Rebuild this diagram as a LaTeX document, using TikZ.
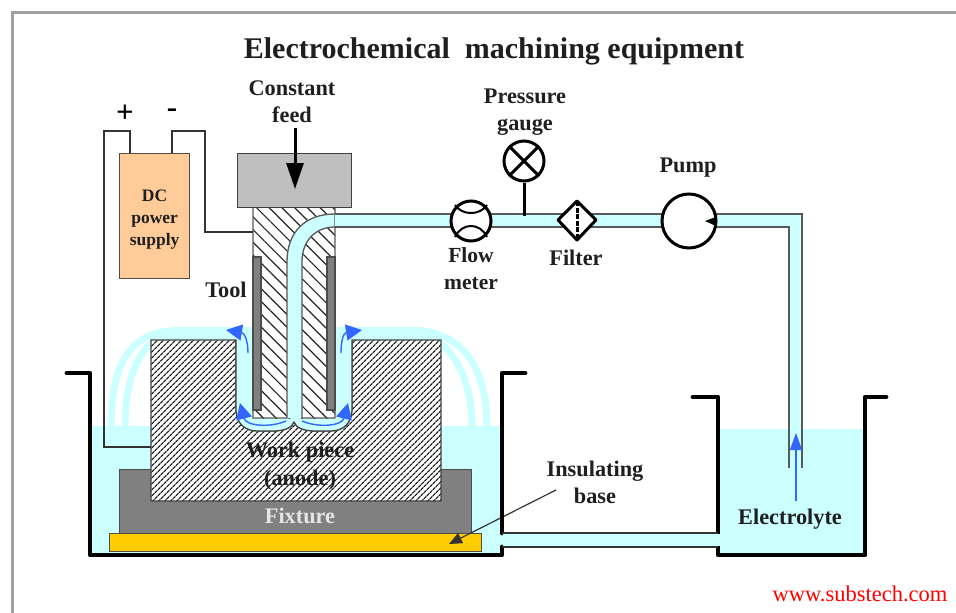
\documentclass[tikz,border=0pt]{standalone}
\usepackage{fontspec}
\setmainfont{Liberation Serif}
\usetikzlibrary{patterns.meta,arrows.meta,calc}
\definecolor{liq}{HTML}{CCFFFF}
\definecolor{flowblue}{HTML}{3366FF}
\definecolor{wire}{HTML}{333333}
\definecolor{frameg}{HTML}{A0A0A0}
\tikzset{
  lab/.style={font=\bfseries\fontsize{#1}{#1}\selectfont,text=black!88,inner sep=0pt,align=center},
  lab/.default=22.3,
  tank/.style={line width=4.8pt,line cap=round,line join=round,black},
  pipeline/.style={line width=1.3pt,draw=black!65},
  wireline/.style={line width=1.7pt,draw=wire},
  instr/.style={line width=3pt,draw=black},
  stream/.style={line width=7pt,draw=liq},
  fineh/.style={pattern={Lines[angle=45,distance=4pt,line width=1.35pt]},pattern color=black!90},
  wideh/.style={pattern={Lines[angle=-45,distance=9pt,line width=1.2pt]},pattern color=black!85},
  farrow/.style={draw=flowblue,line width=1.4pt,-{Triangle[length=16pt,width=16pt]}},
}
\begin{document}
\begin{tikzpicture}[x=1pt,y=-1pt]
\useasboundingbox (0,0) rectangle (956,613);
\draw[frameg,line width=3pt] (12,613) -- (12,12) -- (956,12);
% liquid
\fill[liq] (90,426) rectangle (502,555);
\fill[liq] (718,429) rectangle (865,555);
\fill[liq] (502,533) rectangle (718,547);
% streams
\fill[liq] (238,341) -- (238,327) -- (175,327) .. controls (165,328) and (155,331) .. (148,341) -- cycle;
\fill[liq] (350,341) -- (350,327) -- (420,327) .. controls (430,328) and (438,331) .. (444,341) -- cycle;
\draw[stream] (175,331) .. controls (130,331) and (111,365) .. (111,426);
\draw[stream] (175,333) .. controls (145,335) and (125,370) .. (125,426);
\draw[stream] (415,331) .. controls (460,331) and (487,365) .. (487,426);
\draw[stream] (415,333) .. controls (445,335) and (472,370) .. (472,426);
% fixture and base
\node[draw=black!70,fill=black!50,line width=1.2pt,minimum width=352pt,minimum height=64pt,inner sep=0pt,anchor=north west] (fixture) at (119,469) {};
\node[draw=black!70,fill={rgb,255:red,255;green,204;blue,0},line width=1.2pt,minimum width=372pt,minimum height=18pt,inner sep=0pt,anchor=north west] (base) at (109,533) {};
% workpiece
\def\wppath{(151,340) -- (236,340) -- (236,408) .. controls (236,424) and (245,431) .. (258,431) -- (272,431) .. controls (284,431) and (292,428) .. (294,422) .. controls (296,428) and (304,431) .. (316,431) -- (330,431) .. controls (343,431) and (352,424) .. (352,408) -- (352,340) -- (441,340) -- (441,501) -- (151,501) -- cycle}
\fill[white] \wppath;
\fill[fineh] \wppath;
\draw[black!75,line width=1.2pt] \wppath;
\fill[liq] (236,340) -- (236,408) .. controls (236,424) and (245,431) .. (258,431) -- (272,431) .. controls (284,431) and (292,428) .. (294,422) .. controls (296,428) and (304,431) .. (316,431) -- (330,431) .. controls (343,431) and (352,424) .. (352,408) -- (352,340) -- cycle;
\draw[black!75,line width=1.2pt] (236,340) -- (236,408) .. controls (236,424) and (245,431) .. (258,431) -- (272,431) .. controls (284,431) and (292,428) .. (294,422) .. controls (296,428) and (304,431) .. (316,431) -- (330,431) .. controls (343,431) and (352,424) .. (352,408) -- (352,340);
\fill[liq] (238,327) rectangle (350,341);
% tool
\fill[white] (253,207) rectangle (335,418);
\fill[wideh] (253,207) rectangle (335,418);
\fill[liq] (287,418) -- (287,262) .. controls (287,232) and (305,214) .. (335,214) -- (335,227) .. controls (316,227) and (302,240) .. (302,262) -- (302,418) -- cycle;
\draw[pipeline] (253,207) -- (253,418) -- (287,418) -- (287,262) .. controls (287,232) and (305,214) .. (335,214);
\draw[pipeline] (335,227) .. controls (316,227) and (302,240) .. (302,262) -- (302,418) -- (335,418) -- (335,207);
\fill[black!50,draw=black!70,line width=1.2pt] (253,257) rectangle (261,410);
\fill[black!50,draw=black!70,line width=1.2pt] (327,257) rectangle (335,410);
% feed block
\node[draw=black!75,fill=black!25,line width=1.2pt,minimum width=114pt,minimum height=54pt,inner sep=0pt,anchor=north west] (block) at (237,153) {};
% pipe
\fill[liq] (335,214) -- (802,214) -- (802,468) -- (789,468) -- (789,227) -- (335,227) -- cycle;
\draw[pipeline] (335,214) -- (802,214) -- (802,468);
\draw[pipeline] (335,227) -- (789,227) -- (789,468);
% insulating base arrow
\coordinate (itip) at (449,544);
\coordinate (istart) at (556,490);
\draw[black!80,line width=1.2pt,-{Triangle[length=13pt,width=11pt]}] (istart) -- (itip);
% tanks
\draw[tank] (67,373) -- (90,373) -- (90,555) -- (502,555) -- (502,547);
\draw[tank] (525,373) -- (502,373) -- (502,533);
\draw[tank] (693,397) -- (718,397) -- (718,533);
\draw[tank] (718,547) -- (718,555) -- (865,555) -- (865,397) -- (886,397);
\draw[wireline] (502,533) -- (718,533);
\draw[wireline] (502,547) -- (718,547);
\fill[liq] (503,534) rectangle (720,546.2);
% DC
\node[draw=black!70,fill={rgb,255:red,255;green,204;blue,153},line width=1.2pt,minimum width=70pt,minimum height=125pt,inner sep=0pt,anchor=north west,lab=17.5] (dc) at (119,153) {\rule{0pt}{2pt}\\[-1pt]DC\\[4.5pt]power\\[4.5pt]supply};
\coordinate (wplug) at (151,447);
\coordinate (tplug) at (253,232);
\draw[wireline] (130,153) -- (130,131) -- (104,131) -- (104,447) -- (wplug);
\draw[wireline] (172,153) -- (172,131) -- (205,131) -- (205,232) -- (tplug);
\node[font=\bfseries\fontsize{31}{31}\selectfont,inner sep=0pt] (plus) at (125,114) {+};
\node[font=\bfseries\fontsize{31}{31}\selectfont,inner sep=0pt] (minus) at (172,113) {-};
% flow meter
\node[circle,instr,fill=white,minimum size=40pt,inner sep=0pt] (flow) at (471,221) {};
\draw[black,line width=2pt] (455,205) .. controls (462,215.7) and (480,215.7) .. (487,205);
\draw[black,line width=2pt] (455,237) .. controls (462,222.3) and (480,222.3) .. (487,237);
% gauge
\node[circle,instr,fill=white,minimum size=40pt,inner sep=0pt] (gauge) at (524,161) {};
\draw[instr] (gauge.north west) -- (gauge.south east);
\draw[instr] (gauge.north east) -- (gauge.south west);
\coordinate (tap) at (524,216);
\draw[line width=3pt,black] (gauge.south) -- (tap);
% filter
\draw[instr,fill=white,line join=round] (577,201) -- (596,220) -- (577,240) -- (558,220) -- cycle;
\draw[black,line width=3pt,dash pattern=on 5pt off 1.5pt] (577,201) -- (577,240);
% pump
\node[circle,instr,fill=white,minimum size=54pt,inner sep=0pt] (pump) at (689,221) {};
\fill[black] (705,221) -- (716,217) -- (716,226) -- cycle;
% flow arrows
\draw[farrow] (248,353) .. controls (248,342) and (245,333) .. (226,330);
\draw[farrow] (341,353) .. controls (341,342) and (343,333) .. (362,330);
\draw[farrow] (286,421) .. controls (270,428) and (246,426) .. (240,403);
\draw[farrow] (302,421) .. controls (318,428) and (342,426) .. (348,403);
\coordinate (bstart) at (796,501);
\coordinate (bend) at (796,433);
\draw[draw=flowblue,line width=1.3pt,-{Triangle[length=17pt,width=12pt]}] (bstart) -- (bend);
% feed arrow
\coordinate (fstart) at (295,128);
\coordinate (fend) at (295,189);
\draw[black,line width=3pt,-{Triangle[length=26pt,width=17pt]}] (fstart) -- (fend);
% labels
\node[lab=30] (title) at (494,51) {Electrochemical\ \ machining equipment};
\node[lab] (feed) at (292,101.5) {Constant\\[5pt]feed};
\node[lab] (glabel) at (525,112) {Pressure\\[5pt]gauge};
\node[lab] (plabel) at (688,168) {Pump};
\node[lab=21.5] (flabel) at (471,269) {Flow\\[5.5pt]meter};
\node[lab] at (576,258) {Filter};
\node[lab] (tlabel) at (226,290) {Tool};
\node[lab] (wlabel) at (300,466) {Work piece\\[5pt](anode)};
\node[lab,text=black!10] (fixlabel) at (300,516) {Fixture};
\node[lab] (ilabel) at (595,482.5) {Insulating\\[5pt]base};
\node[lab] (elabel) at (790,519) {Electrolyte};
\node[font=\fontsize{22.5}{22.5}\selectfont,text=red,inner sep=0pt] (www) at (860,594) {www.substech.com};
\end{tikzpicture}
\end{document}
